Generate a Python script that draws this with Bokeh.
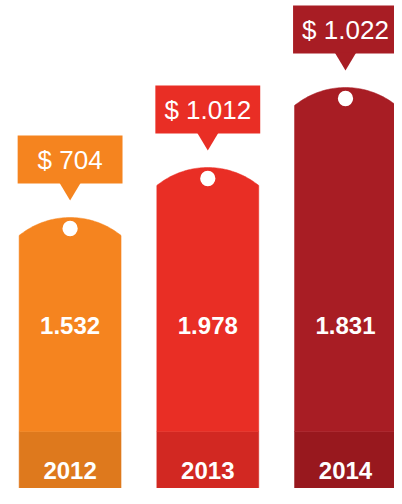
import numpy as np
from bokeh.plotting import figure
from bokeh.models import Range1d
from bokeh.core.properties import value
from bokeh.embed import file_html
from bokeh.resources import INLINE

# ---- data ----
years = ["2012", "2013", "2014"]
prices = [704, 1012, 1022]
volumes = [1532, 1978, 1831]
column_heights = [287, 337, 417]  # height of each column's dome top (chart units)

main_colors = ["#F5841F", "#E92E25", "#A81D24"]
band_colors = ["#DE791D", "#D22822", "#98181E"]

def fmt(v):
    return f"{v:,}".replace(",", ".")

price_labels = ["$ " + fmt(v) for v in prices]
volume_labels = [fmt(v) for v in volumes]

# ---- layout constants (chart units) ----
centers = [71 + 140.5 * i for i in range(len(years))]
bar_w = 104
band_top = 73
sag = 18
box_w = 107
box_h = 48

p = figure(width=394, height=488, x_range=Range1d(0, 402), y_range=Range1d(16, 504),
           x_axis_type=None, y_axis_type=None, toolbar_location=None,
           output_backend="svg", min_border=0, outline_line_color=None,
           background_fill_color="white", border_fill_color="white")
p.grid.visible = False

# year bands
p.vbar(x=centers, width=bar_w, bottom=0, top=band_top, fill_color=band_colors,
       line_color=band_colors, line_width=0.5)

# main columns with domed tops
xs, ys = [], []
half = bar_w / 2
R = (half ** 2 + sag ** 2) / (2 * sag)
a = np.arcsin(half / R)
for cx, top in zip(centers, column_heights):
    ang = np.linspace(np.pi / 2 + a, np.pi / 2 - a, 60)
    arc_x = cx + R * np.cos(ang)
    arc_y = (top - R) + R * np.sin(ang)
    xs.append([cx - half] + list(arc_x) + [cx + half])
    ys.append([band_top] + list(arc_y) + [band_top])
p.patches(xs, ys, fill_color=main_colors, line_color=main_colors, line_width=0.5)

# white hole
p.circle(x=centers, y=[t - 11 for t in column_heights], radius=7.8,
         fill_color="white", line_color=None)

# callouts
p.rect(x=centers, y=[t + 34 + box_h / 2 for t in column_heights], width=box_w,
       height=box_h, fill_color=main_colors, line_color=None)
tx, ty = [], []
for cx, top in zip(centers, column_heights):
    tx.append([cx - 11, cx + 11, cx])
    ty.append([top + 35, top + 35, top + 17])
p.patches(tx, ty, fill_color=main_colors, line_color=None)

p.text(x=centers, y=[t + 34 + box_h / 2 for t in column_heights], text=price_labels,
       text_font=value("Liberation Sans"), text_font_size="26px",
       text_color="white", text_align="center", text_baseline="middle")

p.text(x=centers, y=[179] * 3, text=volume_labels,
       text_font=value("Liberation Sans"), text_font_size="24px", text_font_style="bold",
       text_color="white", text_align="center", text_baseline="middle")

p.text(x=centers, y=[34] * 3, text=years,
       text_font=value("Liberation Sans"), text_font_size="24px", text_font_style="bold",
       text_color="white", text_align="center", text_baseline="middle")

open("out.html", "w").write(file_html(p, INLINE))
